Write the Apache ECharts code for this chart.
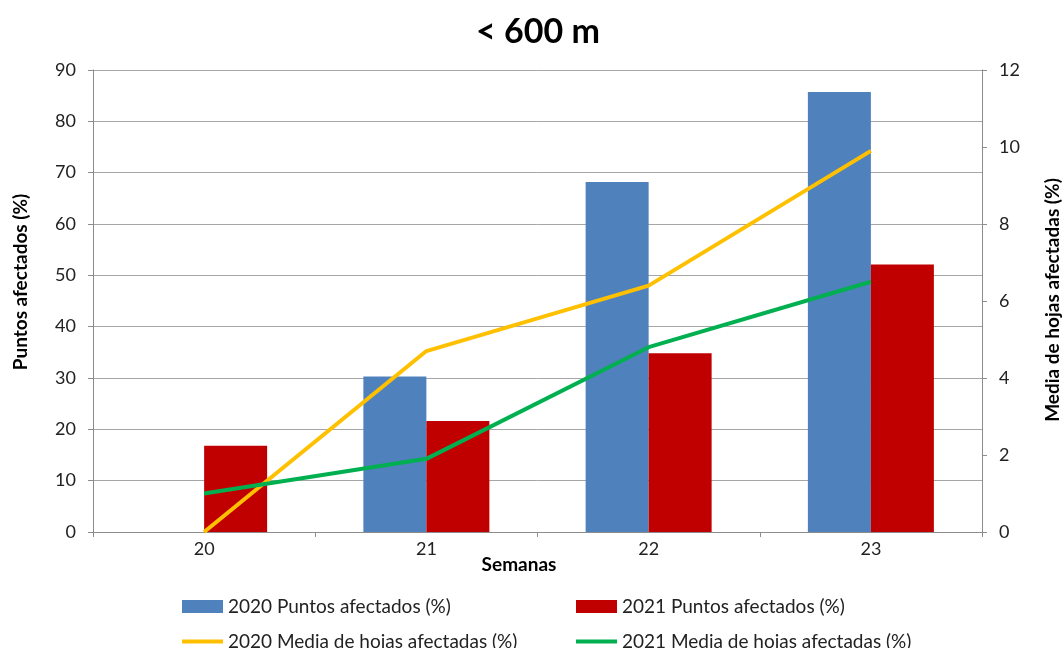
<!DOCTYPE html>
<html>
<head>
<meta charset="utf-8">
<script src="https://cdn.jsdelivr.net/npm/echarts@6/dist/echarts.min.js"></script>
<style>
  html, body { margin: 0; padding: 0; background: #fff; }
  #main { width: 1063px; height: 648px; }
</style>
</head>
<body>
<div id="main"></div>
<script>
// datos
var semanas = ['20', '21', '22', '23'];
var puntos2020 = [0, 30.3, 68.2, 85.7];
var puntos2021 = [16.8, 21.6, 34.8, 52.1];
var hojas2020 = [0, 4.7, 6.4, 9.9];
var hojas2021 = [1.0, 1.9, 4.8, 6.5];

var fuente = 'Lato, "Open Sans", sans-serif';
var gris = '#8c8c8c';

var myChart = echarts.init(document.getElementById('main'), null, {renderer: 'canvas'});

// una leyenda por elemento, para colocarlas como en el original
function leyenda(nombre, x, y, alto) {
    return {
        left: x,
        top: y,
        itemWidth: 41,
        itemHeight: alto,
        itemGap: 0,
        textStyle: { fontSize: 19, color: '#222', fontFamily: fuente },
        data: [{ name: nombre, icon: 'rect' }]
    };
}

var option = {
    backgroundColor: '#fff',
    textStyle: { fontFamily: fuente },
    title: {
        text: '< 600 m',
        left: 471,
        top: 10,
        textStyle: { fontSize: 34, fontWeight: 'bold', color: '#000', fontFamily: fuente }
    },
    legend: [
        leyenda('2020 Puntos afectados (%)', 177, 592, 13),
        leyenda('2021 Puntos afectados (%)', 571, 592, 13),
        leyenda('2020 Media de hojas afectadas (%)', 177, 627, 4),
        leyenda('2021 Media de hojas afectadas (%)', 571, 627, 4)
    ],
    graphic: [{
        type: 'text',
        x: 21,
        y: 282,
        rotation: Math.PI / 2,
        style: {
            text: 'Puntos afectados (%)',
            font: 'bold 19px ' + fuente,
            fill: '#000',
            textAlign: 'center',
            textVerticalAlign: 'middle'
        }
    }, {
        type: 'text',
        x: 1053,
        y: 300,
        rotation: Math.PI / 2,
        style: {
            text: 'Media de hojas afectadas (%)',
            font: 'bold 19px ' + fuente,
            fill: '#000',
            textAlign: 'center',
            textVerticalAlign: 'middle'
        }
    }, {
        type: 'text',
        x: 519,
        y: 565,
        style: {
            text: 'Semanas',
            font: 'bold 19px ' + fuente,
            fill: '#000',
            textAlign: 'center',
            textVerticalAlign: 'middle'
        }
    }],
    grid: { left: 93, right: 81, top: 70, bottom: 116, containLabel: false },
    xAxis: {
        type: 'category',
        data: semanas,
        axisLine: { lineStyle: { color: gris } },
        axisTick: { show: true, length: 5, lineStyle: { color: gris } },
        axisLabel: { fontSize: 18, color: '#222', margin: 8 }
    },
    yAxis: [{
        type: 'value',
        min: 0,
        max: 90,
        interval: 10,
        axisLine: { show: true, lineStyle: { color: gris } },
        axisTick: { show: true, length: 5, lineStyle: { color: gris } },
        axisLabel: { fontSize: 18, color: '#222', margin: 17 },
        splitLine: { show: true, lineStyle: { color: '#a6a6a6', width: 1 } }
    }, {
        type: 'value',
        min: 0,
        max: 12,
        interval: 2,
        axisLine: { show: true, lineStyle: { color: gris } },
        axisTick: { show: true, length: 5, lineStyle: { color: gris } },
        axisLabel: { fontSize: 18, color: '#222', margin: 17 },
        splitLine: { show: false }
    }],
    series: [{
        name: '2020 Puntos afectados (%)',
        type: 'bar',
        yAxisIndex: 0,
        barWidth: 63,
        barGap: '0%',
        itemStyle: { color: '#4f81bd' },
        data: puntos2020
    }, {
        name: '2021 Puntos afectados (%)',
        type: 'bar',
        yAxisIndex: 0,
        barWidth: 63,
        barGap: '0%',
        itemStyle: { color: '#c00000' },
        data: puntos2021
    }, {
        name: '2020 Media de hojas afectadas (%)',
        type: 'line',
        yAxisIndex: 1,
        symbol: 'none',
        itemStyle: { color: '#ffc000' },
        lineStyle: { color: '#ffc000', width: 4 },
        data: hojas2020
    }, {
        name: '2021 Media de hojas afectadas (%)',
        type: 'line',
        yAxisIndex: 1,
        symbol: 'none',
        itemStyle: { color: '#00b050' },
        lineStyle: { color: '#00b050', width: 4 },
        data: hojas2021
    }]
};

myChart.setOption(option);
</script>
</body>
</html>
